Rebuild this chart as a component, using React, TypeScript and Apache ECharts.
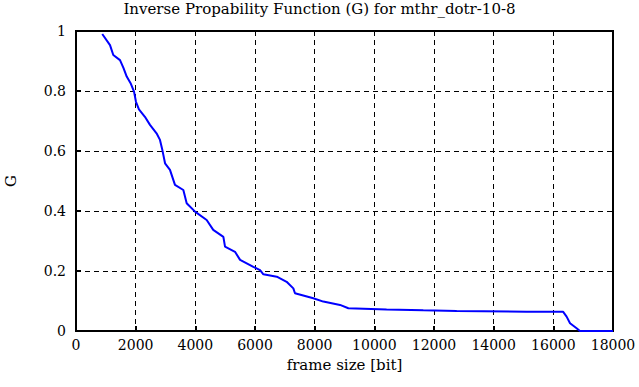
import React, { useEffect, useRef } from "react";
import * as echarts from "echarts";

const TITLE = "Inverse Propability Function (G) for mthr_dotr-10-8";
const X_NAME = "frame size [bit]";
const Y_NAME = "G";

const frameSizes = [
  880, 1140, 1250, 1475, 1590, 1700, 1830, 1945, 2010, 2110, 2310, 2480, 2700, 2815,
  2895, 2985, 3150, 3318, 3598, 3710, 3990, 4380, 4600, 4940, 4995, 5330, 5500, 5945,
  6170, 6280, 6730, 7060, 7285, 7340, 7955, 8290, 8850, 9130, 10410, 11640, 12760,
  15100, 16330, 16445, 16560, 16780, 16890, 18000,
];
const gValues = [
  0.99, 0.953, 0.92, 0.903, 0.877, 0.848, 0.826, 0.798, 0.764, 0.739, 0.714, 0.687,
  0.659, 0.637, 0.603, 0.559, 0.537, 0.487, 0.47, 0.426, 0.398, 0.37, 0.337, 0.314,
  0.281, 0.264, 0.237, 0.214, 0.203, 0.189, 0.181, 0.164, 0.142, 0.126, 0.109, 0.098,
  0.087, 0.076, 0.072, 0.069, 0.067, 0.064, 0.064, 0.048, 0.026, 0.009, 0.0, 0.0,
];

const FONT = "DejaVu Serif";

export default function App() {
  const ref = useRef<HTMLDivElement>(null);
  useEffect(() => {
    if (!ref.current) return;
    const chart = echarts.init(ref.current, undefined, { renderer: "svg" });
    const dashed = { lineStyle: { color: "#000", type: [5, 4] as any, width: 1 } };
    chart.setOption({
      animation: false,
      backgroundColor: "#fff",
      textStyle: { fontFamily: FONT },
      title: {
        text: TITLE,
        left: "center",
        top: 0,
        padding: [1, 0, 0, 0],
        textStyle: { fontFamily: FONT, fontSize: 15, fontWeight: "normal", color: "#000" },
      },
      grid: {
        left: 76,
        top: 31,
        right: 26,
        bottom: 56,
        outerBoundsMode: "none",
        containLabel: false,
        show: true,
        borderColor: "#000",
        borderWidth: 2,
      },
      xAxis: {
        type: "value",
        min: 0,
        max: 18000,
        interval: 2000,
        name: X_NAME,
        nameLocation: "middle",
        nameGap: 26,
        nameTextStyle: { fontFamily: FONT, fontSize: 15, color: "#000" },
        axisLine: { show: true, lineStyle: { color: "#000", width: 2 } },
        axisTick: { show: true, inside: true, length: 5, lineStyle: { color: "#000", width: 2 } },
        axisLabel: {
          fontFamily: FONT,
          fontSize: 14,
          color: "#000",
          margin: 7,
          formatter: (v: number) => String(v),
        },
        splitLine: { show: true, ...dashed },
      },
      yAxis: {
        type: "value",
        min: 0,
        max: 1,
        interval: 0.2,
        name: Y_NAME,
        nameLocation: "middle",
        nameGap: 58,
        nameRotate: 90,
        nameTextStyle: { fontFamily: FONT, fontSize: 15, color: "#000" },
        axisLine: { show: true, lineStyle: { color: "#000", width: 2 } },
        axisTick: { show: true, inside: true, length: 5, lineStyle: { color: "#000", width: 2 } },
        axisLabel: {
          fontFamily: FONT,
          fontSize: 14,
          color: "#000",
          margin: 10,
          formatter: (v: number) => String(Math.round(v * 10) / 10),
        },
        splitLine: { show: true, ...dashed },
      },
      series: [
        {
          type: "line",
          data: frameSizes.map((x, i) => [x, gValues[i]]),
          showSymbol: false,
          symbol: "none",
          lineStyle: { color: "#0000ff", width: 2 },
          itemStyle: { color: "#0000ff" },
        },
      ],
    });
    return () => chart.dispose();
  }, []);
  return (
    <div
      ref={ref}
      style={{ position: "absolute", left: 0, top: 0, width: 639, height: 387 }}
    />
  );
}
